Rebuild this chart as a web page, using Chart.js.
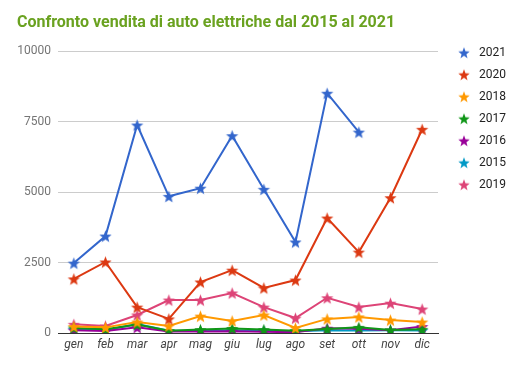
<!DOCTYPE html>
<html>
<head>
<meta charset="utf-8">
<script src="https://cdn.jsdelivr.net/npm/chart.js@4/dist/chart.umd.min.js"></script>
<style>
  html, body { margin: 0; padding: 0; background: #fff; }
  #wrap { width: 521px; height: 369px; }
</style>
</head>
<body>
<div id="wrap"><canvas id="chart" width="521" height="369"></canvas></div>
<script>
const months = ["gen", "feb", "mar", "apr", "mag", "giu", "lug", "ago", "set", "ott", "nov", "dic"];
const yTicks = [0, 2500, 5000, 7500, 10000];

const sales2021 = [2480, 3440, 7380, 4850, 5140, 7000, 5100, 3230, 8510, 7130, null, null];
const sales2020 = [1920, 2520, 920, 500, 1810, 2230, 1600, 1880, 4080, 2870, 4800, 7230];
const sales2018 = [230, 200, 390, 250, 600, 430, 640, 180, 500, 570, 460, 390];
const sales2017 = [180, 130, 300, 80, 120, 160, 120, 80, 140, 200, 110, 130];
const sales2016 = [100, 70, 200, 50, 50, 60, 40, 30, 170, 150, 100, 230];
const sales2015 = [130, 100, 320, 80, 80, 100, 70, 60, 100, 90, 100, 90];
const sales2019 = [310, 250, 640, 1170, 1170, 1420, 920, 530, 1250, 920, 1060, 850];

const seriesNames = ["2021", "2020", "2018", "2017", "2016", "2015", "2019"];
const seriesData = [sales2021, sales2020, sales2018, sales2017, sales2016, sales2015, sales2019];
const seriesColors = ["#3366cc", "#dc3912", "#ff9900", "#109618", "#990099", "#0099c6", "#dd4477"];

Chart.defaults.font.family = "Roboto, 'Noto Sans', sans-serif";

// filled five point star like the google charts marker
function starImage(color, r) {
  const size = Math.ceil(r * 2 + 2);
  const c = document.createElement("canvas");
  c.width = size;
  c.height = size;
  const g = c.getContext("2d");
  const cx = size / 2, cy = size / 2 + r * 0.1;
  g.beginPath();
  for (let i = 0; i < 10; i++) {
    const rad = i % 2 === 0 ? r : r * 0.42;
    const a = -Math.PI / 2 + (i * Math.PI) / 5;
    const px = cx + Math.cos(a) * rad;
    const py = cy + Math.sin(a) * rad;
    if (i === 0) g.moveTo(px, py);
    else g.lineTo(px, py);
  }
  g.closePath();
  g.fillStyle = color;
  g.fill();
  return c;
}

const pointStars = seriesColors.map((c) => starImage(c, 6.5));
const legendStars = seriesColors.map((c) => starImage(c, 6));

const datasets = seriesNames.map((name, i) => ({
  label: name,
  data: seriesData[i],
  borderColor: seriesColors[i],
  backgroundColor: seriesColors[i],
  borderWidth: 2,
  pointStyle: pointStars[i],
  tension: 0,
  spanGaps: false,
}));

const sideLegend = {
  id: "sideLegend",
  afterDraw(chart) {
    const ctx = chart.ctx;
    const starX = chart.chartArea.right + 26;
    const textX = starX + 15;
    let y = chart.chartArea.top + 1.5;
    ctx.save();
    ctx.font = "12px Roboto";
    ctx.fillStyle = "#222222";
    ctx.textBaseline = "middle";
    chart.data.datasets.forEach((ds, i) => {
      const img = legendStars[i];
      ctx.drawImage(img, starX - img.width / 2, y - img.height / 2);
      ctx.fillText(ds.label, textX, y);
      y += 22;
    });
    ctx.restore();
  },
};

new Chart(document.getElementById("chart"), {
  type: "line",
  data: { labels: months, datasets },
  plugins: [sideLegend],
  options: {
    responsive: false,
    animation: false,
    layout: { padding: { left: 17, right: 83, top: 0, bottom: 16 } },
    plugins: {
      legend: { display: false },
      tooltip: { enabled: false },
      title: {
        display: true,
        text: "Confronto vendita di auto elettriche dal 2015 al 2021",
        align: "start",
        color: "#6aa220",
        font: { size: 16, weight: "bold" },
        padding: { top: 13, bottom: 19 },
      },
    },
    scales: {
      x: {
        offset: true,
        grid: { display: false, drawTicks: false },
        border: { display: true, color: "#333333", width: 1 },
        ticks: { color: "#444444", font: { size: 12, style: "italic" }, padding: 5, maxRotation: 0 },
        afterFit: (scale) => { scale.height = 20; },
      },
      y: {
        min: 0,
        max: 10000,
        afterBuildTicks: (scale) => { scale.ticks = yTicks.map((v) => ({ value: v })); },
        grid: { color: "#cccccc", drawTicks: false },
        border: { display: false },
        ticks: { color: "#757575", font: { size: 12 }, padding: 7, callback: (v) => String(v) },
        afterFit: (scale) => { scale.width = 41; },
      },
    },
  },
});
</script>
</body>
</html>
